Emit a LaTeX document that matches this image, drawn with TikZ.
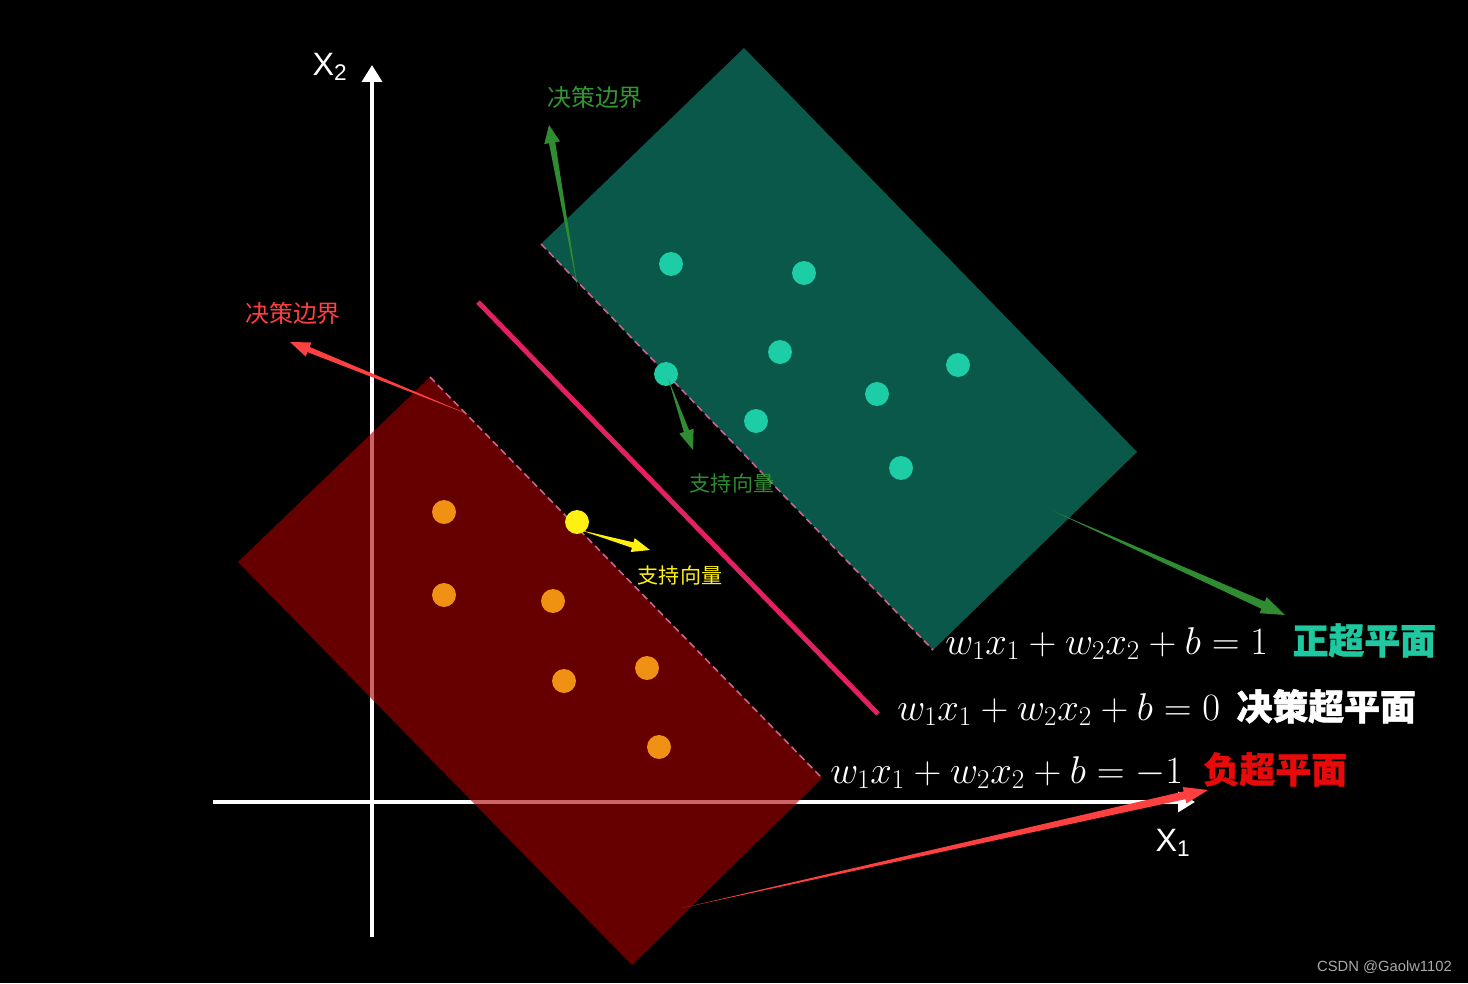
\RequirePackage{fix-cm}
\documentclass[tikz,border=0pt]{standalone}
\usepackage{fontspec}
\usepackage{amsmath}
\usetikzlibrary{arrows.meta,calc,positioning}
\setmainfont{Liberation Sans}
\newfontfamily\cjk{Noto Sans CJK SC}[BoldFeatures={FakeBold=1.2}]

\definecolor{posfill}{RGB}{10,88,74}
\definecolor{negfill}{RGB}{170,0,0}
\definecolor{posdot}{RGB}{28,205,165}
\definecolor{negdot}{RGB}{240,145,20}
\definecolor{svdot}{RGB}{255,240,20}
\definecolor{hyper}{RGB}{228,32,100}
\definecolor{bdash}{RGB}{205,100,145}
\definecolor{gtext}{RGB}{50,150,50}
\definecolor{garrow}{RGB}{48,140,48}
\definecolor{rtext}{RGB}{255,64,64}
\definecolor{postext}{RGB}{30,200,160}
\definecolor{negtext}{RGB}{230,10,10}
\definecolor{wmark}{RGB}{170,170,170}

% tapered arrow: colour, tail, tip, half shaft, half head, head length
\newcommand{\taper}[6]{%
  \coordinate (hb) at ($(#3)!#6!(#2)$);
  \fill[#1] (#2) -- ($(hb)!#4!90:(#3)$) -- ($(hb)!#5!90:(#3)$) -- (#3)
    -- ($(hb)!#5!-90:(#3)$) -- ($(hb)!#4!-90:(#3)$) -- cycle;
}

\begin{document}
\begin{tikzpicture}[x=0.25mm, y=-0.25mm,
    axis/.style={draw=white, line width=2.8pt, -{Triangle[width=14pt,length=12pt]}},
    axlabel/.style={text=white, font=\fontsize{23}{26}\selectfont, inner sep=0},
    pdot/.style={circle, fill=posdot, minimum size=17pt, inner sep=0},
    ndot/.style={circle, fill=negdot, minimum size=17pt, inner sep=0},
    sdot/.style={circle, fill=svdot, minimum size=17pt, inner sep=0},
    bound/.style={draw=bdash, line width=1.1pt, dash pattern=on 5pt off 3pt},
    note/.style={font=\cjk\fontsize{17}{20}\selectfont, inner sep=0},
    svnote/.style={font=\cjk\fontsize{15}{18}\selectfont, inner sep=0},
    eq/.style={text=white, font=\fontsize{27.5}{30}\selectfont, inner sep=0, anchor=base west},
    tag/.style={font=\cjk\bfseries\fontsize{25.5}{28}\selectfont, inner sep=0}
    ]
    % background
    \fill[black] (0,0) rectangle (1468,983);

    % axes
    \coordinate (xs) at (213,802);
    \coordinate (xe) at (1195,802);
    \coordinate (ys) at (372,937);
    \coordinate (ye) at (372,65);
    \draw[axis] (xs) -- (xe);
    \draw[axis] (ys) -- (ye);
    \node[axlabel] (xlab) at (1173,843) {X\textsubscript{1}};
    \node[axlabel] (ylab) at (330,67) {X\textsubscript{2}};

    % positive side
    \fill[posfill] (744,48) -- (1137,452) -- (933,650) -- (541,244) -- cycle;
    \draw[bound] (541,244) -- (933,650);

    % negative side
    \fill[negfill, fill opacity=0.6] (430,377) -- (822,778) -- (632,965) -- (238,562) -- cycle;
    \draw[bound] (430,377) -- (822,778);

    % decision line
    \draw[hyper, line width=3.5pt] (478,302) -- (878,714);

    % samples
    \node[pdot] (p1) at (671,264) {};
    \node[pdot] (p2) at (804,273) {};
    \node[pdot] (p3) at (780,352) {};
    \node[pdot] (p4) at (666,374) {};
    \node[pdot] (p5) at (958,365) {};
    \node[pdot] (p6) at (877,394) {};
    \node[pdot] (p7) at (756,421) {};
    \node[pdot] (p8) at (901,468) {};
    \node[ndot] (n1) at (444,512) {};
    \node[ndot] (n2) at (444,595) {};
    \node[ndot] (n3) at (553,601) {};
    \node[ndot] (n4) at (564,681) {};
    \node[ndot] (n5) at (647,668) {};
    \node[ndot] (n6) at (659,747) {};
    \node[sdot] (s1) at (577,522) {};

    % labels
    \node[note, text=gtext] (gbound) at (595,97) {决策边界};
    \node[note, text=rtext] (rbound) at (293,313) {决策边界};
    \node[svnote, text=garrow] (gsv) at (732,483) {支持向量};
    \node[svnote, text=svdot] (ysv) at (680,575) {支持向量};

    % equations
    \node[eq] (eqpos) at (945,654) {$w_1x_1+w_2x_2+b=1$};
    \node[eq] (eqdec) at (897,720) {$w_1x_1+w_2x_2+b=0$};
    \node[eq] (eqneg) at (830,783) {$w_1x_1+w_2x_2+b=-1$};
    \node[tag, text=postext, right=6mm of eqpos.base east, anchor=base west] (tpos) {正超平面};
    \node[tag, text=white, right=4mm of eqdec.base east, anchor=base west] (tdec) {决策超平面};
    \node[tag, text=negtext, right=5mm of eqneg.base east, anchor=base west] (tneg) {负超平面};

    % arrow ends
    \coordinate (gb-tail) at (578,290);
    \coordinate (gb-tip) at (549,125);
    \coordinate (rb-tail) at (470,415);
    \coordinate (rb-tip) at (290,342);
    \coordinate (gs-tail) at (668,378);
    \coordinate (gs-tip) at (693,450);
    \coordinate (ys-tail) at (580,530);
    \coordinate (ys-tip) at (650,550);
    \coordinate (pos-tail) at (1053,511);
    \coordinate (pos-tip) at (1285,615);
    \coordinate (neg-tail) at (682,908);
    \coordinate (neg-tip) at (1208,790);

    % arrows
    \taper{garrow}{gb-tail}{gb-tip}{0.8mm}{2mm}{4.5mm}
    \taper{rtext}{rb-tail}{rb-tip}{0.7mm}{1.9mm}{5mm}
    \taper{garrow}{gs-tail}{gs-tip}{0.7mm}{1.9mm}{5mm}
    \taper{svdot}{ys-tail}{ys-tip}{0.7mm}{1.8mm}{4.5mm}
    \taper{garrow}{pos-tail}{pos-tip}{1mm}{2.2mm}{6mm}
    \taper{rtext}{neg-tail}{neg-tip}{1mm}{2.1mm}{6mm}

    % watermark
    \node[text=wmark, font=\fontsize{10.5}{12}\selectfont, anchor=east, inner sep=0] (mark) at (1452,967) {CSDN @Gaolw1102};
\end{tikzpicture}
\end{document}
